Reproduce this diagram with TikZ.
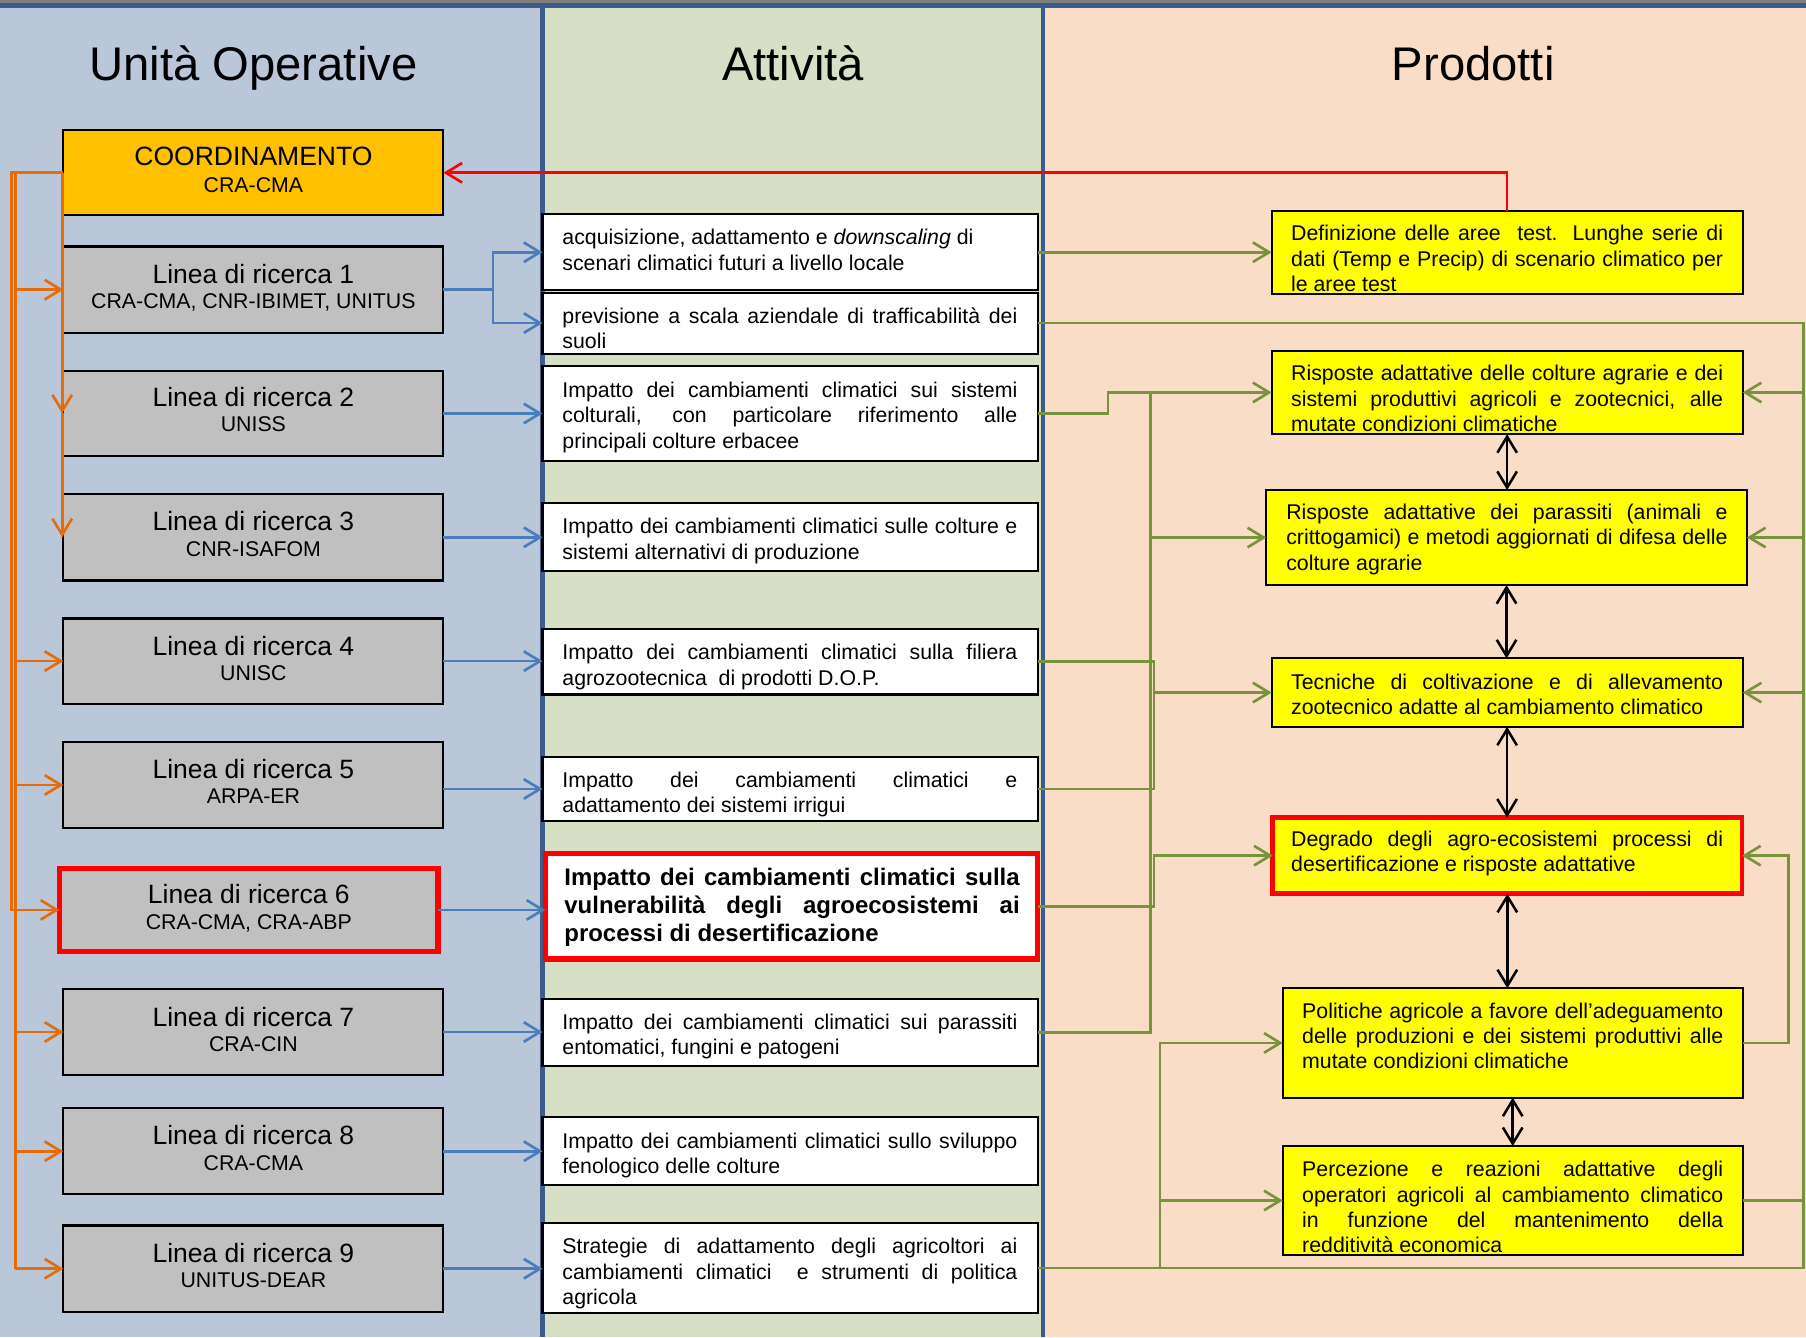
\documentclass[tikz,border=0pt]{standalone}
\usepackage{fontspec}
\setmainfont{Liberation Sans}
\usetikzlibrary{arrows.meta}
\definecolor{bgL}{RGB}{185,199,217}
\definecolor{bgM}{RGB}{215,224,196}
\definecolor{bgR}{RGB}{250,221,198}
\definecolor{navy}{RGB}{60,93,140}
\definecolor{topgray}{RGB}{128,128,128}
\definecolor{gbox}{RGB}{192,192,192}
\definecolor{coordc}{RGB}{255,192,0}
\definecolor{ylw}{RGB}{255,255,0}
\definecolor{orng}{RGB}{228,108,10}
\definecolor{blu}{RGB}{74,126,187}
\definecolor{grn}{RGB}{119,147,60}
\newcommand{\jl}[1]{\makebox[\linewidth][s]{#1}}
\newcommand{\mtxt}{\fontsize{18.5}{22}\selectfont}
\newcommand{\lin}[2]{\parbox[t]{330pt}{\centering\fontsize{23}{22}\selectfont #1\\\fontsize{18.5}{22}\selectfont #2}}
\begin{document}
\begin{tikzpicture}[x=1pt,y=-1pt,
  box/.style={draw=black, line width=1.8pt, inner sep=0pt, outer sep=0pt},
  lbox/.style={box, fill=gbox, minimum width=330pt},
  abox/.style={box, fill=white, minimum width=430pt},
  pbox/.style={box, fill=ylw},
  txt/.style={anchor=base west, inner sep=0pt, outer sep=0pt},
  ttl/.style={anchor=base, inner sep=0pt, font=\fontsize{41}{49}\selectfont},
  ltx/.style={anchor=base, inner sep=0pt},
  arr/.style={-{Straight Barb[length=14pt,width=17pt]}},
  conn/.style={line width=2.3pt},
  darr/.style={black, line width=2.2pt, {Straight Barb[length=14pt,width=17pt]}-{Straight Barb[length=14pt,width=17pt]}}
]
\useasboundingbox (0,0) rectangle (1568,1161);
% backgrounds
\fill[bgL] (0,0) rectangle (471,1161);
\fill[bgM] (471,0) rectangle (906,1161);
\fill[bgR] (906,0) rectangle (1568,1161);
\fill[topgray] (0,0) rectangle (1568,3);
\fill[navy] (0,3) rectangle (1568,7);
\draw[navy, line width=4.3pt] (471.2,3) -- (471.2,1161);
\draw[navy, line width=4pt] (905.6,3) -- (905.6,1161);

% titles
\node[ttl] (t1) at (220,69.5) {Unità Operative};
\node[ttl] (t2) at (688.5,69.5) {Attività};
\node[ttl] (t3) at (1279,69.5) {Prodotti};

% left column boxes
\node[box, fill=coordc, minimum width=330pt, minimum height=74pt] (coord) at (220,150) {};
\node[lbox, minimum height=75pt] (l1) at (220,251.5) {};
\node[lbox, minimum height=74pt] (l2) at (220,359) {};
\node[lbox, minimum height=75pt] (l3) at (220,466.5) {};
\node[lbox, minimum height=74pt] (l4) at (220,574) {};
\node[lbox, minimum height=75pt] (l5) at (220,681.5) {};
\node[lbox, draw=red, line width=4.8pt, minimum width=329pt, minimum height=72pt] (l6) at (216,790) {};
\node[lbox, minimum height=74pt] (l7) at (220,896) {};
\node[lbox, minimum height=75pt] (l8) at (220,999.5) {};
\node[lbox, minimum height=75pt] (l9) at (220,1101.5) {};

% middle column boxes
\node[abox, minimum height=66pt] (a1) at (686,219) {};
\node[abox, minimum height=53pt] (a2) at (686,280.5) {};
\node[abox, minimum height=82pt] (a3) at (686,359) {};
\node[abox, minimum height=59pt] (a4) at (686,466.5) {};
\node[abox, minimum height=57pt] (a5) at (686,574.5) {};
\node[abox, minimum height=56pt] (a6) at (686,685) {};
\node[abox, draw=red, line width=4.6pt, minimum width=427.5pt, minimum height=91.6pt] (a7) at (687.2,786.8) {};
\node[abox, minimum height=58.5pt] (a8) at (686,896.2) {};
\node[abox, minimum height=59pt] (a9) at (686,999.5) {};
\node[abox, minimum height=78pt] (a10) at (686,1101) {};

% right column boxes
\node[pbox, minimum width=409pt, minimum height=72pt] (p1) at (1308.5,219) {};
\node[pbox, minimum width=409pt, minimum height=72.5pt] (p2) at (1308.5,340.75) {};
\node[pbox, minimum width=417.3pt, minimum height=82.6pt] (p3) at (1308,466.7) {};
\node[pbox, minimum width=409pt, minimum height=59.4pt] (p4) at (1308.5,601.3) {};
\node[pbox, draw=red, line width=4.3pt, minimum width=407.4pt, minimum height=66.2pt] (p5) at (1308.7,742.9) {};
\node[pbox, minimum width=399.3pt, minimum height=95pt] (p6) at (1313.35,905.5) {};
\node[pbox, minimum width=399.3pt, minimum height=94.6pt] (p7) at (1313.35,1042.3) {};

% helper x positions
\coordinate (obx) at (10,0);
\coordinate (ibx) at (13.3,0);
\coordinate (dbx) at (54,0);
\coordinate (bfx) at (428,0);
\coordinate (gsx) at (962,0);
\coordinate (g1x) at (999,0);
\coordinate (g2x) at (1002,0);
\coordinate (g3x) at (1007,0);
\coordinate (g4x) at (1553,0);
\coordinate (rbx) at (1566,0);

% orange connectors
\draw[orng, conn, arr] (coord.west) -- (coord.west -| obx) -- (obx |- l6.west) -- (l6.west);
\draw[orng, conn] (coord.west -| ibx) -- (ibx |- l9.west);
\foreach \n in {l1,l4,l5,l7,l8,l9} \draw[orng, conn, arr] (ibx |- \n.west) -- (\n.west);
\draw[orng, conn, arr] (coord.west -| dbx) -- (dbx |- l2.west);
\draw[orng, conn, arr] (dbx |- l2.west) -- (dbx |- l3.west);

% blue connectors
\draw[blu, conn, arr] (l1.east) -- (l1.east -| bfx) |- (a1.west);
\draw[blu, conn, arr] (l1.east -| bfx) |- (a2.west);
\draw[blu, conn, arr] (l2.east) -- (l2.east -| a3.west);
\draw[blu, conn, arr] (l3.east) -- (l3.east -| a4.west);
\draw[blu, conn, arr] (l4.east) -- (l4.east -| a5.west);
\draw[blu, conn, arr] (a6.west -| l5.east) -- (a6.west);
\draw[blu, conn, arr] (l6.east) -- (l6.east -| a7.west);
\draw[blu, conn, arr] (l7.east) -- (l7.east -| a8.west);
\draw[blu, conn, arr] (l8.east) -- (l8.east -| a9.west);
\draw[blu, conn, arr] (l9.east) -- (l9.east -| a10.west);

% red feedback
\draw[red, conn, arr] (p1.north) -- (p1.north |- coord.east) -- (coord.east);

% green connectors
\draw[grn, conn, arr] (a1.east) -- (a1.east -| p1.west);
\draw[grn, conn, arr] (a3.east) -- (a3.east -| gsx) -- (gsx |- p2.west) -- (p2.west);
\draw[grn, conn] (g1x |- p2.west) -- (g1x |- a8.east) -- (a8.east);
\draw[grn, conn, arr] (g1x |- p3.west) -- (p3.west);
\draw[grn, conn] (a5.east) -- (a5.east -| g2x) -- (g2x |- a6.east) -- (a6.east);
\draw[grn, conn, arr] (g2x |- p4.west) -- (p4.west);
\draw[grn, conn, arr] (a7.east) -- (a7.east -| g2x) -- (g2x |- p5.west) -- (p5.west);
\draw[grn, conn] (a2.east) -- (a2.east -| rbx) -- (rbx |- a10.east) -- (a10.east);
\draw[grn, conn, arr] (rbx |- p2.east) -- (p2.east);
\draw[grn, conn, arr] (rbx |- p3.east) -- (p3.east);
\draw[grn, conn, arr] (rbx |- p4.east) -- (p4.east);
\draw[grn, conn] (p7.east) -- (p7.east -| rbx);
\draw[grn, conn, arr] (p6.east) -- (p6.east -| g4x) -- (g4x |- p5.east) -- (p5.east);
\draw[grn, conn, arr] (g3x |- a10.east) -- (g3x |- p6.west) -- (p6.west);
\draw[grn, conn, arr] (g3x |- p7.west) -- (p7.west);

% black double arrows
\draw[darr] (p2.south) -- (p2.south |- p3.north);
\draw[darr] (p3.south) -- (p3.south |- p4.north);
\draw[darr] (p4.south) -- (p4.south |- p5.north);
\draw[darr] (p5.south) -- (p5.south |- p6.north);
\draw[darr] (p6.south) -- (p6.south |- p7.north);

% left texts
\node[ltx] (coordt) at (220,144) {\parbox[t]{330pt}{\centering\fontsize{23}{23}\selectfont COORDINAMENTO\\\fontsize{18.5}{23}\selectfont CRA-CMA}};
\node[ltx] (l1t) at (220,246) {\lin{Linea di ricerca 1}{CRA-CMA, CNR-IBIMET, UNITUS}};
\node[ltx] (l2t) at (220,353) {\lin{Linea di ricerca 2}{UNISS}};
\node[ltx] (l3t) at (220,461) {\lin{Linea di ricerca 3}{CNR-ISAFOM}};
\node[ltx] (l4t) at (220,569) {\lin{Linea di ricerca 4}{UNISC}};
\node[ltx] (l5t) at (220,676) {\lin{Linea di ricerca 5}{ARPA-ER}};
\node[ltx] (l6t) at (216,784.8) {\lin{Linea di ricerca 6}{CRA-CMA, CRA-ABP}};
\node[ltx] (l7t) at (220,891) {\lin{Linea di ricerca 7}{CRA-CIN}};
\node[ltx] (l8t) at (220,994) {\lin{Linea di ricerca 8}{CRA-CMA}};
\node[ltx] (l9t) at (220,1096) {\lin{Linea di ricerca 9}{UNITUS-DEAR}};

% middle texts
\node[txt] (a1t) at (488.3,212.7) {\parbox[t]{395pt}{\mtxt acquisizione, adattamento e \emph{downscaling} di\\ scenari climatici futuri a livello locale}};
\node[txt] (a2t) at (488.3,280.7) {\parbox[t]{395pt}{\mtxt\jl{previsione a scala aziendale di trafficabilità dei}\\ suoli}};
\node[txt] (a3t) at (488.3,345) {\parbox[t]{395pt}{\mtxt\jl{Impatto dei cambiamenti climatici sui sistemi}\\\jl{colturali, con particolare riferimento alle}\\ principali colture erbacee}};
\node[txt] (a4t) at (488.3,463.6) {\parbox[t]{395pt}{\mtxt\jl{Impatto dei cambiamenti climatici sulle colture e}\\ sistemi alternativi di produzione}};
\node[txt] (a5t) at (488.3,573) {\parbox[t]{395pt}{\mtxt\jl{Impatto dei cambiamenti climatici sulla filiera}\\ agrozootecnica\ \ di prodotti D.O.P.}};
\node[txt] (a6t) at (488.3,683.6) {\parbox[t]{395pt}{\mtxt\jl{Impatto dei cambiamenti climatici e}\\ adattamento dei sistemi irrigui}};
\node[txt] (a7t) at (490,768.4) {\parbox[t]{395.3pt}{\fontsize{20.8}{24.6}\selectfont\bfseries\jl{Impatto dei cambiamenti climatici sulla}\\\jl{vulnerabilità degli agroecosistemi ai}\\ processi di desertificazione}};
\node[txt] (a8t) at (488.3,893.4) {\parbox[t]{395pt}{\mtxt\jl{Impatto dei cambiamenti climatici sui parassiti}\\ entomatici, fungini e patogeni}};
\node[txt] (a9t) at (488.3,997) {\parbox[t]{395pt}{\mtxt\jl{Impatto dei cambiamenti climatici sullo sviluppo}\\ fenologico delle colture}};
\node[txt] (a10t) at (488.3,1088.7) {\parbox[t]{395pt}{\mtxt\jl{Strategie di adattamento degli agricoltori ai}\\\jl{cambiamenti climatici\ \ e strumenti di politica}\\ agricola}};

% right texts
\node[txt] (p1t) at (1121,209) {\parbox[t]{375pt}{\mtxt\jl{Definizione delle aree\ \ test. Lunghe serie di}\\\jl{dati (Temp e Precip) di scenario climatico per}\\ le aree test}};
\node[txt] (p2t) at (1121,330.5) {\parbox[t]{375pt}{\mtxt\jl{Risposte adattative delle colture agrarie e dei}\\\jl{sistemi produttivi agricoli e zootecnici, alle}\\ mutate condizioni climatiche}};
\node[txt] (p3t) at (1116.8,451) {\parbox[t]{383pt}{\mtxt\jl{Risposte adattative dei parassiti (animali e}\\\jl{crittogamici) e metodi aggiornati di difesa delle}\\ colture agrarie}};
\node[txt] (p4t) at (1121,598.5) {\parbox[t]{375pt}{\mtxt\jl{Tecniche di coltivazione e di allevamento}\\ zootecnico adatte al cambiamento climatico}};
\node[txt] (p5t) at (1121,735) {\parbox[t]{375pt}{\mtxt\jl{Degrado degli agro-ecosistemi processi di}\\ desertificazione e risposte adattative}};
\node[txt] (p6t) at (1130.6,884) {\parbox[t]{365.5pt}{\mtxt\jl{Politiche agricole a favore dell’adeguamento}\\\jl{delle produzioni e dei sistemi produttivi alle}\\ mutate condizioni climatiche}};
\node[txt] (p7t) at (1130.6,1021.6) {\parbox[t]{365.5pt}{\mtxt\jl{Percezione e reazioni adattative degli}\\\jl{operatori agricoli al cambiamento climatico}\\\jl{in funzione del mantenimento della}\\ redditività economica}};
\end{tikzpicture}
\end{document}
